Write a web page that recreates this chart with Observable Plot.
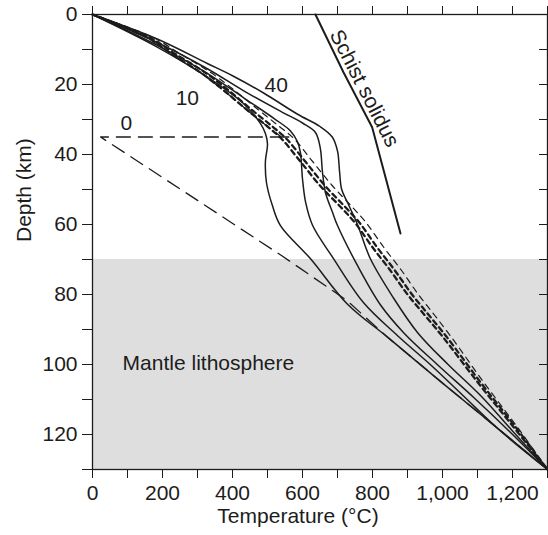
<!DOCTYPE html>
<html>
<head>
<meta charset="utf-8">
<script src="https://cdn.jsdelivr.net/npm/d3@7"></script>
<script src="https://cdn.jsdelivr.net/npm/@observablehq/plot@0.6"></script>
<style>
  html, body { margin: 0; padding: 0; background: #fff; }
  #chart svg { display: block; }
</style>
</head>
<body>
<div id="chart"></div>
<script>
// ---- Data (temperature °C, depth km) ----
const xTicks = d3.range(0, 1301, 100);
const yTicks = d3.range(0, 131, 10);
const mantleDepth = [70, 130];
const tempRange = [0, 1300];

// initial (t = 0) geotherm, dashed
const temp0  = [0, 157, 223, 309, 375, 443, 500, 540, 566, 23, 300, 542, 728, 843, 1000, 1150, 1300];
const depth0 = [0, 6.6, 11.1, 16.6, 21.7, 27.4, 32, 35, 35, 35, 53.1, 69, 81.8, 92.2, 105.3, 117.6, 130];

// solid geotherms
const temp10  = [0, 185, 328, 432, 480, 494, 500, 494, 497, 514, 537, 623, 728, 843, 1000, 1150, 1300];
const depth10 = [0, 9.3, 17.9, 25.5, 31.2, 34, 37, 42, 48, 54.6, 60.3, 69.8, 82.7, 92.2, 105.3, 117.6, 130];
const temp20  = [0, 185, 328, 432, 520, 565, 585, 594, 600, 609, 629, 689, 774, 871, 965, 1060, 1160, 1300];
const depth20 = [0, 8.8, 16.8, 23.8, 29.8, 33.2, 36.2, 39.4, 47, 53.7, 60.3, 69.8, 82.3, 91.7, 100, 109, 118.5, 130];
const temp30  = [0, 185, 328, 432, 540, 600, 637, 651, 657, 666, 686, 700, 757, 823, 889, 985, 1090, 1190, 1300];
const depth30 = [0, 8, 15.5, 21.8, 27.8, 31, 33.7, 38.3, 45, 51, 56.6, 60.3, 71.7, 83, 90.9, 100, 109.5, 119, 130];
const temp40  = [0, 185, 328, 400, 490, 586, 650, 685, 700, 706, 712, 730, 757, 794, 860, 929, 1016, 1110, 1200, 1300];
const depth40 = [0, 7, 14, 17.5, 22.5, 28.5, 32, 35, 39, 45, 50, 54, 60, 69.8, 81, 90.9, 100, 109, 119, 130];

// dashed bundle
const depthDash = [0, 6.6, 11.1, 16.6, 21.7, 27.4, 32, 35.5, 42, 49, 55, 59.5, 66.5, 73, 80, 86, 92, 105, 117.5, 130];
const tempDashA = [0, 157, 223, 309, 375, 443, 500, 540, 594, 651, 709, 750, 800, 850, 900, 950, 1000, 1100, 1200, 1300];
const tempDashB = [0, 164, 234, 322, 389, 457, 514, 554, 608, 665, 722, 763, 813, 863, 913, 962, 1011, 1108, 1206, 1300];
const tempDashC = [0, 174, 248, 338, 406, 476, 534, 576, 629, 686, 742, 782, 832, 882, 931, 978, 1024, 1117, 1211, 1300];

// schist solidus
const tempSolidus  = [637, 717, 799, 880];
const depthSolidus = [0, 16.5, 32.2, 62.6];

// labels
const curveLabels = ["0", "10", "40"];
const curveLabelTemp = [97, 271, 525];
const curveLabelDepth = [31, 24, 20.3];

// ---- build tables ----
const toRows = (name, T, D) => T.map((t, i) => ({name, T: t, D: D[i]}));
const solid = [
  ...toRows("10", temp10, depth10),
  ...toRows("20", temp20, depth20),
  ...toRows("30", temp30, depth30),
  ...toRows("40", temp40, depth40)
];
const dashA = toRows("A", tempDashA, depthDash);
const dashB = toRows("B", tempDashB, depthDash);
const dashC = toRows("C", tempDashC, depthDash);
const zero = toRows("0", temp0, depth0);
const solidus = toRows("solidus", tempSolidus, depthSolidus);
const labels = curveLabels.map((t, i) => ({text: t, T: curveLabelTemp[i], D: curveLabelDepth[i]}));

const ink = "#1c1c1c";
const font = "'Liberation Sans', Arial, Helvetica, sans-serif";
const W = 548, ML = 92, MR = 1;

const chart = Plot.plot({
  width: W,
  height: 535,
  marginLeft: ML,
  marginRight: MR,
  marginTop: 14,
  marginBottom: 66,
  style: {fontSize: "21px", fontFamily: font, color: ink, background: "#fff"},
  x: {domain: tempRange},
  y: {domain: [0, 130], reverse: true},
  marks: [
    Plot.rect([mantleDepth], {x1: () => tempRange[0], x2: () => tempRange[1], y1: d => d[0], y2: d => d[1], fill: "#dedede"}),
    Plot.line(zero, {x: "T", y: "D", stroke: ink, strokeWidth: 1.3, strokeDasharray: "14,8"}),
    Plot.line(dashC, {x: "T", y: "D", stroke: ink, strokeWidth: 1.2, strokeDasharray: "6,5", curve: "catmull-rom"}),
    Plot.line(dashA, {x: "T", y: "D", stroke: ink, strokeWidth: 2.3, strokeDasharray: "5,4", curve: "catmull-rom"}),
    Plot.line(dashB, {x: "T", y: "D", stroke: ink, strokeWidth: 2.3, strokeDasharray: "5,4", strokeDashoffset: 2, curve: "catmull-rom"}),
    Plot.line(solid, {x: "T", y: "D", z: "name", stroke: ink, strokeWidth: 1.5, curve: "catmull-rom"}),
    Plot.line(solidus, {x: "T", y: "D", stroke: ink, strokeWidth: 2}),
    Plot.text(["Schist solidus"], {x: () => 777, y: () => 21.1, rotate: 63, fill: ink, fontSize: 21}),
    Plot.text(labels, {x: "T", y: "D", text: "text", fill: ink}),
    Plot.text(["Mantle lithosphere"], {x: () => 86, y: () => 99.7, textAnchor: "start", fill: ink}),
    Plot.axisY({anchor: "left", ticks: yTicks, tickSize: 10, tickPadding: 5, tickFormat: d => d % 20 === 0 ? d : "", label: null, stroke: ink}),
    // inward ticks along the right edge
    Plot.axisY({anchor: "left", ticks: yTicks, tickSize: 8, dx: W - ML - MR, tickFormat: () => "", label: null, stroke: ink}),
    Plot.axisX({anchor: "bottom", ticks: xTicks, tickSize: 9, tickPadding: 7, tickFormat: d => d % 200 === 0 ? d3.format(",")(d) : "", label: null, stroke: ink}),
    Plot.axisX({anchor: "top", ticks: xTicks, tickSize: 9, tickFormat: () => "", label: null, stroke: ink}),
    Plot.frame({stroke: ink, strokeWidth: 1.3}),
    Plot.text(["Temperature (°C)"], {frameAnchor: "bottom", dx: -22, dy: 53, fill: ink}),
    Plot.text(["Depth (km)"], {frameAnchor: "left", dx: -68, rotate: -90, fill: ink})
  ]
});
document.getElementById("chart").appendChild(chart);
</script>
</body>
</html>
